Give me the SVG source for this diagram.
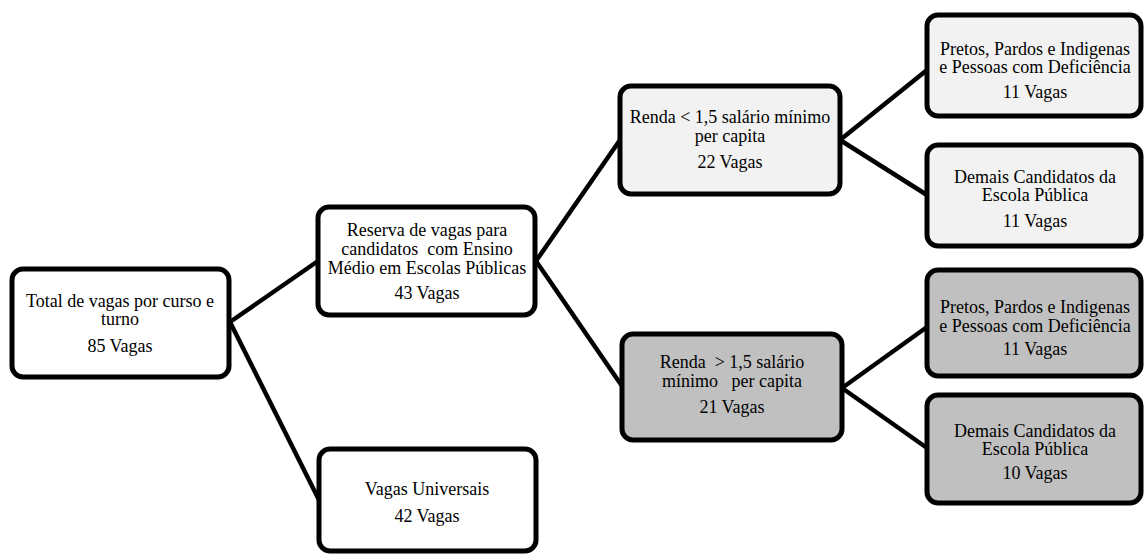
<svg xmlns="http://www.w3.org/2000/svg" width="1144" height="554" viewBox="0 0 1144 554">
<style>
.box{stroke:#000;stroke-width:5;}
.w{fill:#fff;}
.l{fill:#f2f2f2;}
.d{fill:#c0c0c0;}
text{font-family:"Liberation Serif","Times New Roman",serif;font-size:18px;fill:#000;text-anchor:middle;}
.c line{stroke:#000;stroke-width:4.5;stroke-linecap:butt;}
</style>
<rect width="1144" height="554" fill="#fff"/>
<g class="c" id="connectors">
<line x1="230" y1="322" x2="318" y2="261"/>
<line x1="230" y1="322" x2="319" y2="500"/>
<line x1="536" y1="261" x2="620" y2="140"/>
<line x1="536" y1="261" x2="622" y2="386"/>
<line x1="840" y1="140" x2="927" y2="70"/>
<line x1="840" y1="140" x2="927" y2="195"/>
<line x1="842" y1="388" x2="927" y2="327"/>
<line x1="842" y1="388" x2="927" y2="448"/>
</g>
<g id="total">
<rect class="box w" x="12" y="269" width="217" height="108" rx="11"/>
<text x="120" y="307">Total de vagas por curso e</text>
<text x="120" y="325">turno</text>
<text x="120" y="352">85 Vagas</text>
</g>
<g id="reserva">
<rect class="box w" x="318" y="207" width="217" height="108" rx="11"/>
<text x="427" y="236">Reserva de vagas para</text>
<text x="427" y="255" xml:space="preserve">candidatos  com Ensino</text>
<text x="427" y="274">Médio em Escolas Públicas</text>
<text x="427" y="299">43 Vagas</text>
</g>
<g id="universais">
<rect class="box w" x="319" y="449" width="217" height="102" rx="11"/>
<text x="427" y="495">Vagas Universais</text>
<text x="427" y="522">42 Vagas</text>
</g>
<g id="renda-menor">
<rect class="box l" x="620" y="86" width="220" height="108" rx="11"/>
<text x="730" y="123">Renda &lt; 1,5 salário mínimo</text>
<text x="730" y="142">per capita</text>
<text x="730" y="168">22 Vagas</text>
</g>
<g id="renda-maior">
<rect class="box d" x="622" y="334" width="220" height="106" rx="11"/>
<text x="732" y="368" xml:space="preserve">Renda  &gt; 1,5 salário</text>
<text x="732" y="387" xml:space="preserve">mínimo   per capita</text>
<text x="732" y="413">21 Vagas</text>
</g>
<g id="ppi-1">
<rect class="box l" x="927" y="15" width="214" height="101" rx="11"/>
<text x="1035" y="55">Pretos, Pardos e Indigenas</text>
<text x="1035" y="73">e Pessoas com Deficiência</text>
<text x="1035" y="98">11 Vagas</text>
</g>
<g id="demais-1">
<rect class="box l" x="927" y="145" width="214" height="101" rx="11"/>
<text x="1035" y="183">Demais Candidatos da</text>
<text x="1035" y="201">Escola Pública</text>
<text x="1035" y="227">11 Vagas</text>
</g>
<g id="ppi-2">
<rect class="box d" x="927" y="270" width="214" height="106" rx="11"/>
<text x="1035" y="313">Pretos, Pardos e Indigenas</text>
<text x="1035" y="332">e Pessoas com Deficiência</text>
<text x="1035" y="355">11 Vagas</text>
</g>
<g id="demais-2">
<rect class="box d" x="927" y="395" width="214" height="108" rx="11"/>
<text x="1035" y="437">Demais Candidatos da</text>
<text x="1035" y="455">Escola Pública</text>
<text x="1035" y="479">10 Vagas</text>
</g>
</svg>
